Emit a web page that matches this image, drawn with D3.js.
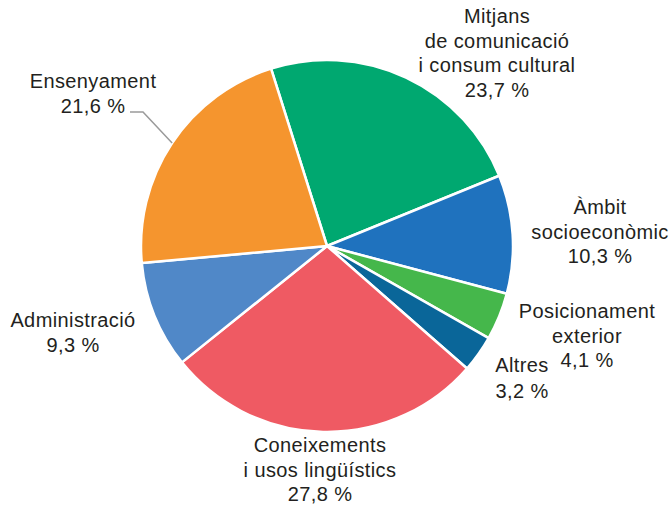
<!DOCTYPE html>
<html>
<head>
<meta charset="utf-8">
<script src="https://cdn.jsdelivr.net/npm/d3@7"></script>
<style>
  body { margin: 0; background: #fff; }
  text { font-family: "Liberation Sans", Arial, sans-serif; fill: #231f20; }
</style>
</head>
<body>
<div id="chart"></div>
<script>
// data, clockwise from the top
var categories = ["Mitjans de comunicació i consum cultural", "Àmbit socioeconòmic", "Posicionament exterior",
                  "Altres", "Coneixements i usos lingüístics", "Administració", "Ensenyament"];
var values = [23.7, 10.3, 4.1, 3.2, 27.8, 9.3, 21.6];
var labelLines = [
  ["Mitjans", "de comunicació", "i consum cultural"],
  ["Àmbit", "socioeconòmic"],
  ["Posicionament", "exterior"],
  ["Altres"],
  ["Coneixements", "i usos lingüístics"],
  ["Administració"],
  ["Ensenyament"]
];
var colors = ["#00a870", "#1f72be", "#45b74b", "#0a6699", "#ef5a63", "#5088c8", "#f5952e"];

// label placement (x centre, first baseline)
var labelPos = [[497, 23], [600, 214], [587, 318], [522, 372], [320, 452], [73, 327], [93, 88]];

var width = 672, height = 506;
var cx = 327, cy = 246, radius = 186;
var lineH = 24.5;

var svg = d3.select("#chart").append("svg")
    .attr("width", width)
    .attr("height", height);

var g = svg.append("g")
    .attr("transform", "translate(" + cx + "," + cy + ")");

var startA = -17.5 * Math.PI / 180;
var pie = d3.pie()
    .sort(null)
    .value(function(d) { return d; })
    .startAngle(startA)
    .endAngle(startA + 2 * Math.PI);

var arc = d3.arc().innerRadius(0).outerRadius(radius);

var arcs = pie(values);

g.selectAll(".slice")
    .data(arcs)
    .enter().append("path")
    .attr("class", "slice")
    .attr("d", arc)
    .attr("fill", function(d, i) { return colors[i]; })
    .attr("stroke", "#fff")
    .attr("stroke-width", 2.5)
    .attr("stroke-linejoin", "round");

// leader line for Ensenyament
var ens = arcs[6];
var mid = (ens.startAngle + ens.endAngle) / 2;
svg.append("polyline")
    .attr("points", [
      [cx + Math.sin(mid) * radius, cy - Math.cos(mid) * radius],
      [143, 112],
      [130, 112]
    ].join(" "))
    .attr("fill", "none")
    .attr("stroke", "#9a9a9a")
    .attr("stroke-width", 1.5);

var fmt = function(v) { return String(v).replace(".", ",") + " %"; };

var labels = svg.selectAll(".label")
    .data(arcs)
    .enter().append("text")
    .attr("class", "label")
    .attr("text-anchor", "middle")
    .attr("font-size", "20px")
    .attr("letter-spacing", "0.4px")
    .attr("x", function(d, i) { return labelPos[i][0]; })
    .attr("y", function(d, i) { return labelPos[i][1]; });

labels.each(function(d, i) {
  var t = d3.select(this);
  var lines = labelLines[i].concat([fmt(values[i])]);
  lines.forEach(function(s, j) {
    t.append("tspan")
      .attr("x", labelPos[i][0])
      .attr("y", labelPos[i][1] + j * (i === 3 ? 25.5 : lineH))
      .text(s);
  });
});
</script>
</body>
</html>
